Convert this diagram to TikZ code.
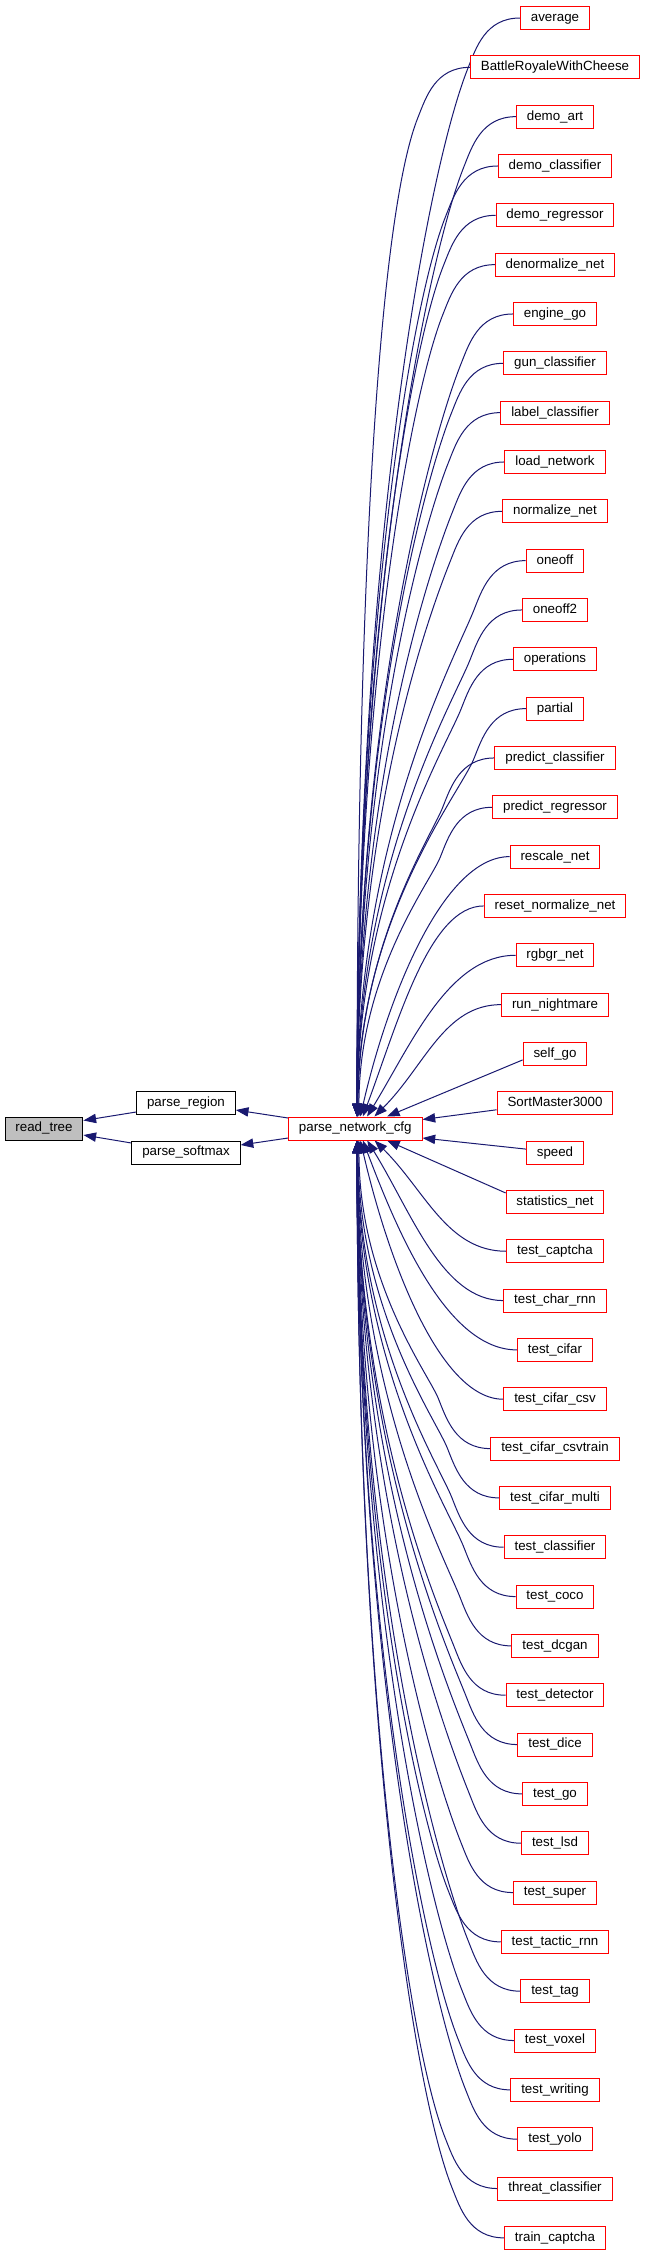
\documentclass[tikz,border=0pt]{standalone}
\usepackage{fontspec}
\setmainfont{Liberation Sans}
\usetikzlibrary{calc,arrows.meta,backgrounds}
\definecolor{edgeblue}{HTML}{191970}
\definecolor{rootgray}{HTML}{BFBFBF}
\tikzset{
  fn/.style={draw=red, line width=0.75pt, fill=white, font=\fontsize{10}{12}\selectfont,
    inner xsep=7.8pt, inner ysep=0pt, minimum height=17.25pt, text height=7.2pt, text depth=2.1pt},
  fnblack/.style={fn, draw=black},
  fnroot/.style={fn, draw=black, fill=rootgray},
  edge/.style={draw=edgeblue, line width=0.75pt, -{Triangle[length=9.5pt,width=7pt]}}
}
% common set-up: start S (west of caller #1), end E on parse_network_cfg anchor #2; lengths in pt
\newcommand\edgeprep[2]{%
  \path (r#1.west); \pgfgetlastxy{\Sx}{\Sy}%
  \pgfmathsetmacro\dd{abs(18+49.33*#1-1128.5)}%
  \pgfmathsetmacro\oxx{1.7+30*exp(-(\dd-75)/90)}%
  \path ($(pnc.#2)+(\oxx,0)$); \pgfgetlastxy{\Ex}{\Ey}%
  \pgfmathsetmacro\sg{(\Ey<\Sy) ? -1 : 1}%
  \pgfmathsetmacro\DD{abs(\Ey-\Sy)}%
  \pgfmathsetmacro\DX{\Sx-\Ex}%
}
% far callers: quick bend, then a long descent that ends vertically
\newcommand\faredge[2]{%
  \edgeprep{#1}{#2}%
  \pgfmathsetmacro\Mx{\Sx-39}%
  \pgfmathsetmacro\My{\Sy+\sg*37.5}%
  \pgfmathsetmacro\DB{abs(\Ey-\My)}%
  \pgfmathsetmacro\cAx{\Sx-26}%
  \pgfmathsetmacro\cBx{\Mx+0.4*15}%
  \pgfmathsetmacro\cBy{\My-\sg*15}%
  \pgfmathsetmacro\cCx{\Mx-0.4*0.095*\DB}%
  \pgfmathsetmacro\cCy{\My+\sg*0.095*\DB}%
  \pgfmathsetmacro\cDy{\Ey-\sg*0.55*\DB}%
  \draw[edge] (r#1.west) .. controls (\cAx pt,\Sy) and (\cBx pt,\cBy pt) .. (\Mx pt,\My pt)
     .. controls (\cCx pt,\cCy pt) and (\Ex,\cDy pt) .. ($(pnc.#2)+(\oxx,0)$);%
}
% middle callers: one smooth arc
\newcommand\midedge[2]{%
  \edgeprep{#1}{#2}%
  \pgfmathsetmacro\bet{exp(-(\dd-124)/100)}%
  \pgfmathsetmacro\cAx{\Sx-0.45*\DX}%
  \pgfmathsetmacro\cBx{\Ex+\bet*0.45*\DD}%
  \pgfmathsetmacro\cBy{\Ey-\sg*0.45*\DD}%
  \draw[edge] (r#1.west) .. controls (\cAx pt,\Sy) and (\cBx pt,\cBy pt) .. ($(pnc.#2)+(\oxx,0)$);%
}
\begin{document}
\begin{tikzpicture}[x=0.75pt,y=-0.75pt]
\useasboundingbox (0,0) rectangle (645,2256);
% left part
\node[fnroot] (rt) at (44,1128.5) {read\_tree};
\node[fnblack] (pr) at (186,1103) {parse\_region};
\node[fnblack] (ps) at (186,1152.5) {parse\_softmax};
\node[fn] (pnc) at (355.3,1128.5) {parse\_network\_cfg};
% right column
\foreach [count=\i from 0] \nm in {average, BattleRoyaleWithCheese, demo\_art, demo\_classifier,
  demo\_regressor, denormalize\_net, engine\_go, gun\_classifier, label\_classifier, load\_network,
  normalize\_net, oneoff, oneoff2, operations, partial, predict\_classifier, predict\_regressor,
  rescale\_net, reset\_normalize\_net, rgbgr\_net, run\_nightmare, self\_go, SortMaster3000, speed,
  statistics\_net, test\_captcha, test\_char\_rnn, test\_cifar, test\_cifar\_csv, test\_cifar\_csvtrain,
  test\_cifar\_multi, test\_classifier, test\_coco, test\_dcgan, test\_detector, test\_dice, test\_go,
  test\_lsd, test\_super, test\_tactic\_rnn, test\_tag, test\_voxel, test\_writing, test\_yolo,
  threat\_classifier, train\_captcha}
{
  \node[fn] (r\i) at (555,{18+49.33*\i}) {\nm};
}
\begin{pgfonlayer}{background}
% edges to the left
\draw[edge] ($(pr.west)+(0,9)$) -- ($(rt.east)+(0,-8)$);
\draw[edge] ($(ps.west)+(0,-9.5)$) -- ($(rt.east)+(0,6.5)$);
\draw[edge] ($(pnc.west)+(0,-10.5)$) -- ($(pr.east)+(0,7)$);
\draw[edge] ($(pnc.west)+(0,9.5)$) -- ($(ps.east)+(0,-7.5)$);
% near straight edges
\draw[edge] ($(r22.west)+(0,6.5)$) -- ($(pnc.east)+(0,-9)$);
\draw[edge] ($(r23.west)+(0,-3.5)$) -- ($(pnc.east)+(0,9.5)$);
\draw[edge] ($(r21.west)+(0,6)$) -- ($(pnc.north)+(31.7,0)$);
\draw[edge] ($(r24.west)+(0,-9)$) -- ($(pnc.south)+(31.7,0)$);
% curved edges
\foreach \i in {0,...,16} {\faredge{\i}{north}}
\foreach \i in {17,...,20} {\midedge{\i}{north}}
\foreach \i in {25,...,28} {\midedge{\i}{south}}
\foreach \i in {29,...,45} {\faredge{\i}{south}}
\end{pgfonlayer}
\end{tikzpicture}
\end{document}
